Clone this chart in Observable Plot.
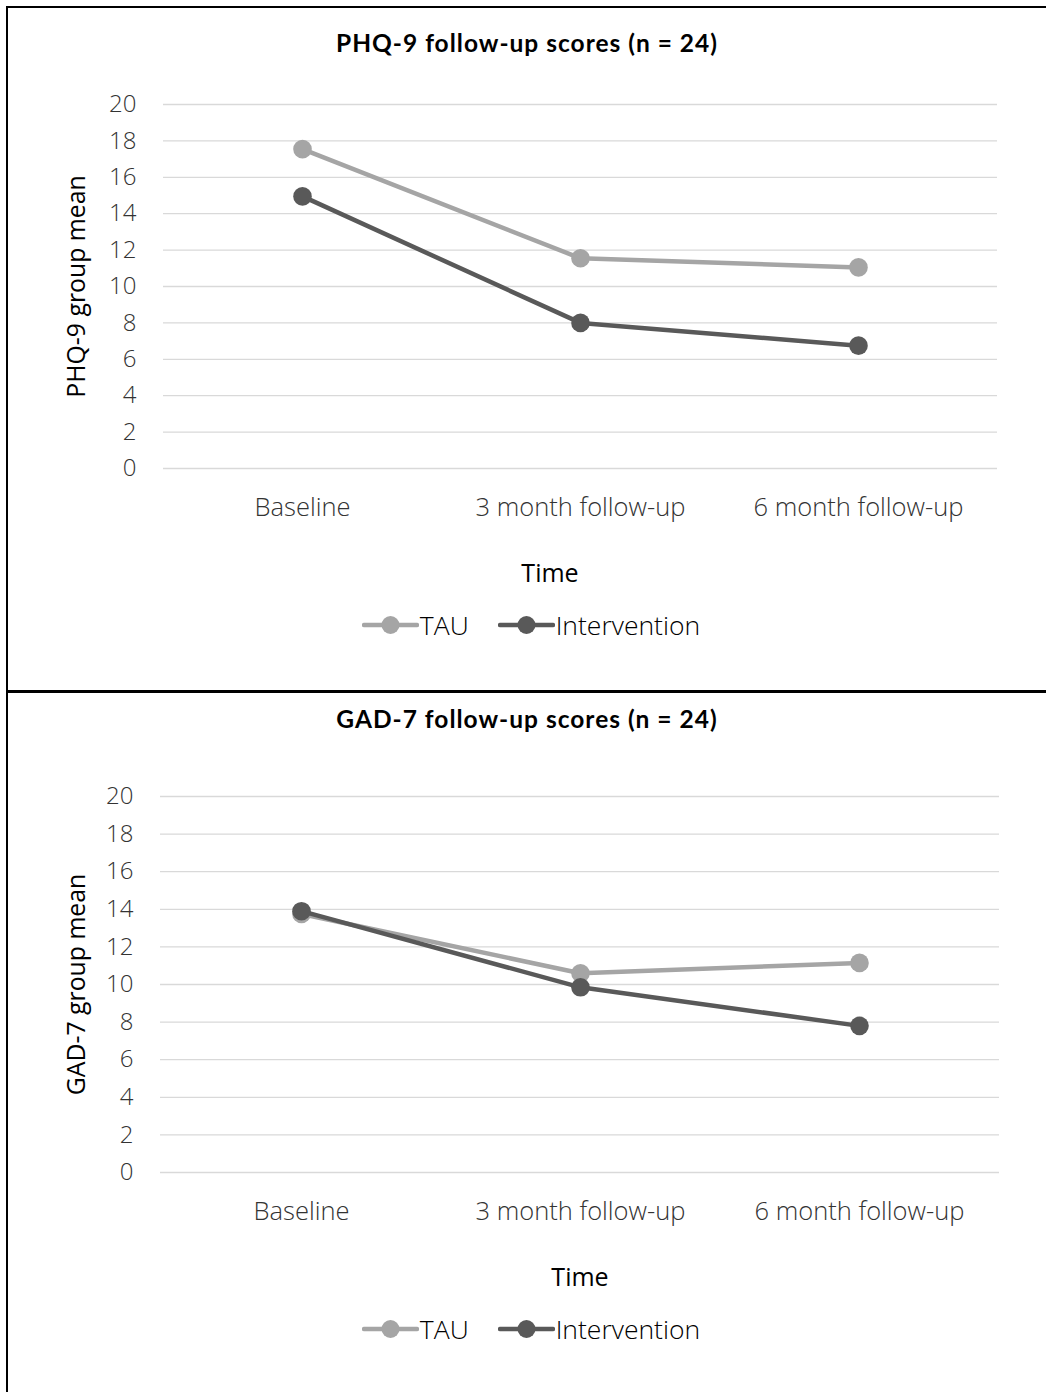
<!DOCTYPE html>
<html>
<head>
<meta charset="utf-8">
<script src="https://cdn.jsdelivr.net/npm/d3@7"></script>
<script src="https://cdn.jsdelivr.net/npm/@observablehq/plot@0.6"></script>
<style>
  body { margin: 0; background: #fff; }
  #page { position: relative; width: 1046px; height: 1392px; overflow: hidden; background: #fff; font-family: "Open Sans", sans-serif; }
  .rule { position: absolute; background: #000; }
  .panel { position: absolute; left: 0; width: 1046px; }
  .panel svg { position: absolute; left: 0; top: 0; }
  .title { position: absolute; left: 8px; width: 1038px; text-align: center; font-family: Lato, sans-serif; font-weight: 700; font-size: 24.5px; letter-spacing: 1px; color: #000; line-height: 1; }
  .xtitle { position: absolute; font-family: "Open Sans", sans-serif; font-size: 25px; color: #000; line-height: 1; transform: translateX(-50%); white-space: nowrap; }
  .legend { position: absolute; left: 8px; width: 1046px; display: flex; justify-content: center; align-items: center; gap: 29px; font-size: 26.5px; font-weight: 300; color: #000; line-height: 1; }
  .legend .item { display: flex; align-items: center; }
  .legend svg { position: static; margin-right: 1px; }
</style>
</head>
<body>
<div id="page"></div>
<script>
// Time points on the x axis and shared y ticks
const timepoints = ["Baseline", "3 month follow-up", "6 month follow-up"];
const yTicks = [0, 2, 4, 6, 8, 10, 12, 14, 16, 18, 20];

// Group means, PHQ-9
const phqTAU = [17.55, 11.55, 11.05];
const phqIntervention = [14.95, 8.0, 6.75];

// Group means, GAD-7
const gadTAU = [13.75, 10.6, 11.15];
const gadIntervention = [13.9, 9.85, 7.8];

const seriesNames = ["TAU", "Intervention"];
const seriesColors = ["#a5a5a5", "#595959"];

const page = document.getElementById("page");

// Frame lines
function rule(l, t, w, h) {
  const d = document.createElement("div");
  d.className = "rule";
  Object.assign(d.style, {left: l + "px", top: t + "px", width: w + "px", height: h + "px"});
  page.appendChild(d);
}
rule(6, 6, 1040, 2);
rule(6, 6, 2, 1386);
rule(6, 690, 1040, 2.5);

function legend(top) {
  const lg = document.createElement("div");
  lg.className = "legend";
  lg.style.top = top + "px";
  seriesNames.forEach((name, i) => {
    const item = document.createElement("div");
    item.className = "item";
    item.innerHTML = `<svg width="57" height="22"><line x1="2" x2="55" y1="11" y2="11" stroke="${seriesColors[i]}" stroke-width="4.5" stroke-linecap="round"/><circle cx="28.5" cy="11" r="9" fill="${seriesColors[i]}"/></svg><span>${name}</span>`;
    lg.appendChild(item);
  });
  return lg;
}

function panel({top, titleTop, title, yLabel, values, marginLeft, marginRight, plotHeight, timeX}) {
  const marginTop = 104, marginBottom = 60;
  const rows = values.flatMap((vals, s) =>
    vals.map((v, i) => ({series: seriesNames[s], time: timepoints[i], value: v}))
  );
  const chart = Plot.plot({
    width: 1046,
    height: marginTop + plotHeight + marginBottom,
    marginTop, marginBottom, marginLeft, marginRight,
    style: {fontFamily: "'Open Sans', sans-serif", fontSize: "24px", fontWeight: 300, color: "#333", background: "transparent", overflow: "visible"},
    x: {type: "point", domain: timepoints, padding: 0.5},
    y: {domain: [0, 20]},
    marks: [
      Plot.ruleY(yTicks, {stroke: "#d9d9d9", strokeWidth: 1.3}),
      Plot.axisY({ticks: yTicks, tickSize: 0, tickPadding: 27, label: null}),
      Plot.axisX({tickSize: 0, tickPadding: 29, label: null, fontSize: 25.5}),
      Plot.text([yLabel], {frameAnchor: "left", rotate: -90, dx: 77 - marginLeft, lineAnchor: "middle", textAnchor: "middle", fill: "#000", fontWeight: 400, fontSize: 24.8}),
      ...seriesNames.flatMap((name, s) => {
        const data = rows.filter(d => d.series === name);
        return [
          Plot.line(data, {x: "time", y: "value", stroke: seriesColors[s], strokeWidth: 4.5, strokeLinejoin: "round"}),
          Plot.dot(data, {x: "time", y: "value", r: 9.3, fill: seriesColors[s], stroke: "none"})
        ];
      })
    ]
  });
  const wrap = document.createElement("div");
  wrap.className = "panel";
  wrap.style.top = top + "px";
  wrap.style.height = (1392 - top) + "px";
  wrap.appendChild(chart);

  const t = document.createElement("div");
  t.className = "title";
  t.style.top = titleTop + "px";
  t.textContent = title;
  wrap.appendChild(t);

  const xt = document.createElement("div");
  xt.className = "xtitle";
  xt.style.left = timeX + "px";
  xt.style.top = (marginTop + plotHeight + 92) + "px";
  xt.textContent = "Time";
  wrap.appendChild(xt);

  wrap.appendChild(legend(marginTop + plotHeight + 144));
  page.appendChild(wrap);
}

panel({top: 0, titleTop: 31, title: "PHQ-9 follow-up scores (n = 24)", yLabel: "PHQ-9 group mean",
  values: [phqTAU, phqIntervention], marginLeft: 163, marginRight: 49, plotHeight: 364, timeX: 550});
panel({top: 692, titleTop: 15, title: "GAD-7 follow-up scores (n = 24)", yLabel: "GAD-7 group mean",
  values: [gadTAU, gadIntervention], marginLeft: 160, marginRight: 47, plotHeight: 376, timeX: 580});
</script>
</body>
</html>
